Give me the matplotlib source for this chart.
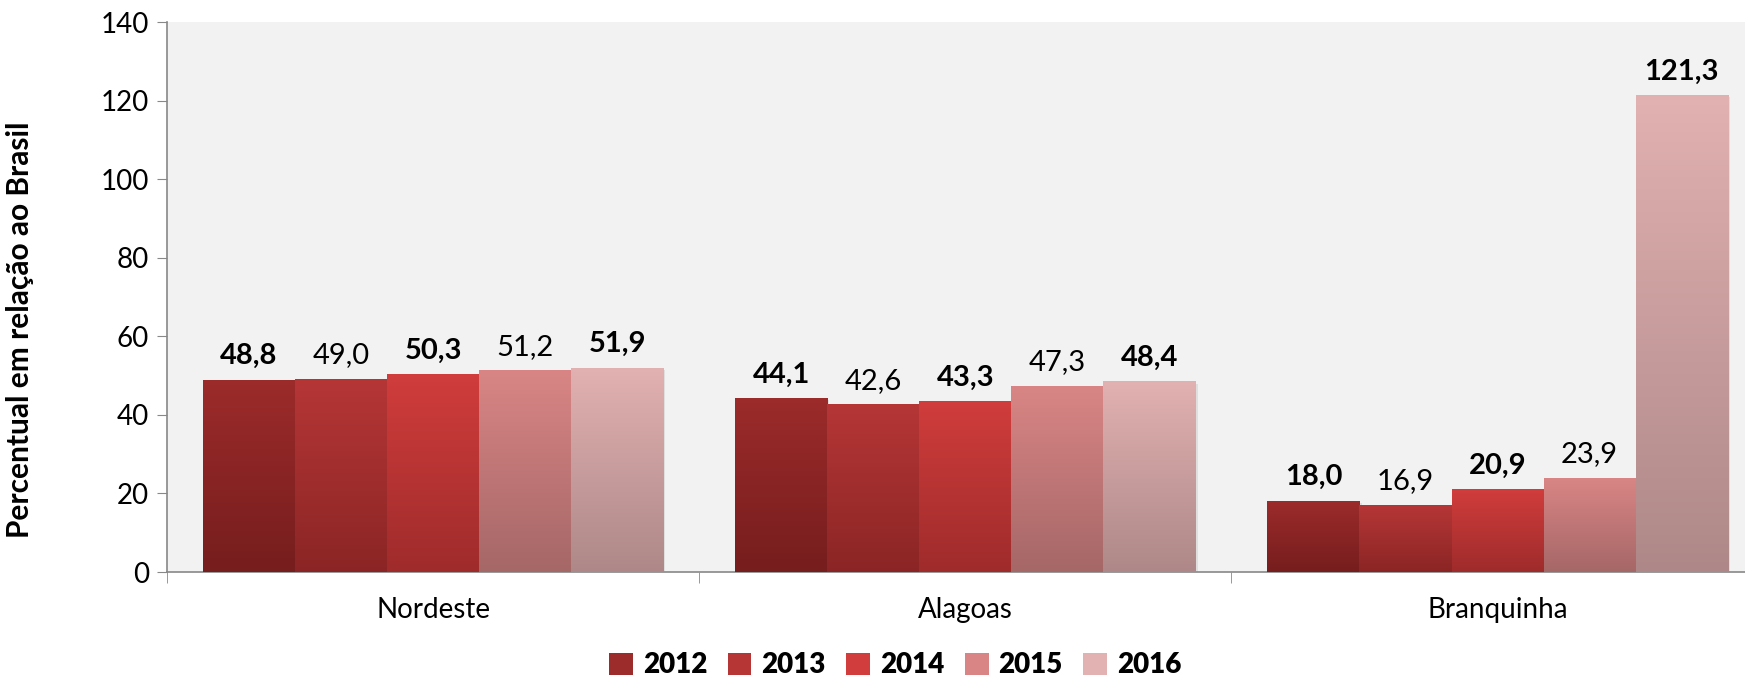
import numpy as np
import matplotlib.pyplot as plt
from matplotlib.colors import LinearSegmentedColormap
from matplotlib.patches import Patch

plt.rcParams['font.family'] = ['Lato', 'DejaVu Sans']

# data
categorias = ['Nordeste', 'Alagoas', 'Branquinha']
anos = ['2012', '2013', '2014', '2015', '2016']
valores = {
    '2012': [48.8, 44.1, 18.0],
    '2013': [49.0, 42.6, 16.9],
    '2014': [50.3, 43.3, 20.9],
    '2015': [51.2, 47.3, 23.9],
    '2016': [51.9, 48.4, 121.3],
}
negrito = {'2012': True, '2013': False, '2014': True, '2015': False, '2016': True}

# gradient colours (top, bottom)
cores = {
    '2012': ('#9c2b2b', '#761d1d'),
    '2013': ('#b63636', '#8b2525'),
    '2014': ('#d03d3c', '#9f2b2b'),
    '2015': ('#d98585', '#a66767'),
    '2016': ('#e2b1b1', '#ae8888'),
}

fig = plt.figure(figsize=(17.45, 6.83), dpi=100)
ax = fig.add_axes([0.0957, 0.1625, 0.915, 0.805])
ax.set_facecolor('#f2f2f2')

largura = 0.173
grupo = largura * len(anos)
for i, cat in enumerate(categorias):
    inicio = i + (1 - grupo) / 2
    for j, ano in enumerate(anos):
        v = valores[ano][i]
        x0 = inicio + j * largura
        x1 = x0 + largura
        cmap = LinearSegmentedColormap.from_list(ano, [cores[ano][1], cores[ano][0]])
        grad = np.linspace(0, 1, 256).reshape(-1, 1)
        # soft shadow
        ax.add_patch(plt.Rectangle((x0 + 0.004, 0), largura, v - 0.4,
                                   color='#000000', alpha=0.08, zorder=2, lw=0))
        ax.imshow(grad, extent=[x0, x1, 0, v], origin='lower', aspect='auto',
                  cmap=cmap, zorder=3, interpolation='bicubic')
        txt = f'{v:.1f}'.replace('.', ',')
        ax.annotate(txt, (x0 + largura / 2, v), xytext=(0, 8),
                    textcoords='offset points', ha='center', va='bottom',
                    fontsize=21, fontweight='bold' if negrito[ano] else 'normal',
                    color='black', zorder=5)

ax.set_xlim(0, 3)
ax.set_ylim(0, 140)
ax.set_yticks(np.arange(0, 141, 20))
ax.tick_params(axis='y', labelsize=20, length=7, color='#888888', pad=6)

ax.set_xticks([0.5, 1.5, 2.5])
ax.set_xticklabels(categorias, fontsize=20)
ax.tick_params(axis='x', which='major', length=0, pad=18)
ax.set_xticks([0, 1, 2, 3], minor=True)
ax.tick_params(axis='x', which='minor', length=8, color='#888888')

for s in ['top', 'right']:
    ax.spines[s].set_visible(False)
for s in ['left', 'bottom']:
    ax.spines[s].set_color('#888888')
    ax.spines[s].set_linewidth(1.2)

ax.set_ylabel('Percentual em relação ao Brasil', fontsize=21.5, fontweight='bold')
ax.yaxis.set_label_coords(-0.083, 0.44)

handles = [Patch(facecolor=cores[a][0], edgecolor='none') for a in anos]
fig.legend(handles, anos, loc='lower center', bbox_to_anchor=(0.513, -0.03), ncol=5,
           frameon=False, prop={'size': 20, 'weight': 'heavy'},
           handlelength=0.85, handleheight=0.85, handletextpad=0.35, columnspacing=0.75)

fig.savefig('out.png', dpi=100)
